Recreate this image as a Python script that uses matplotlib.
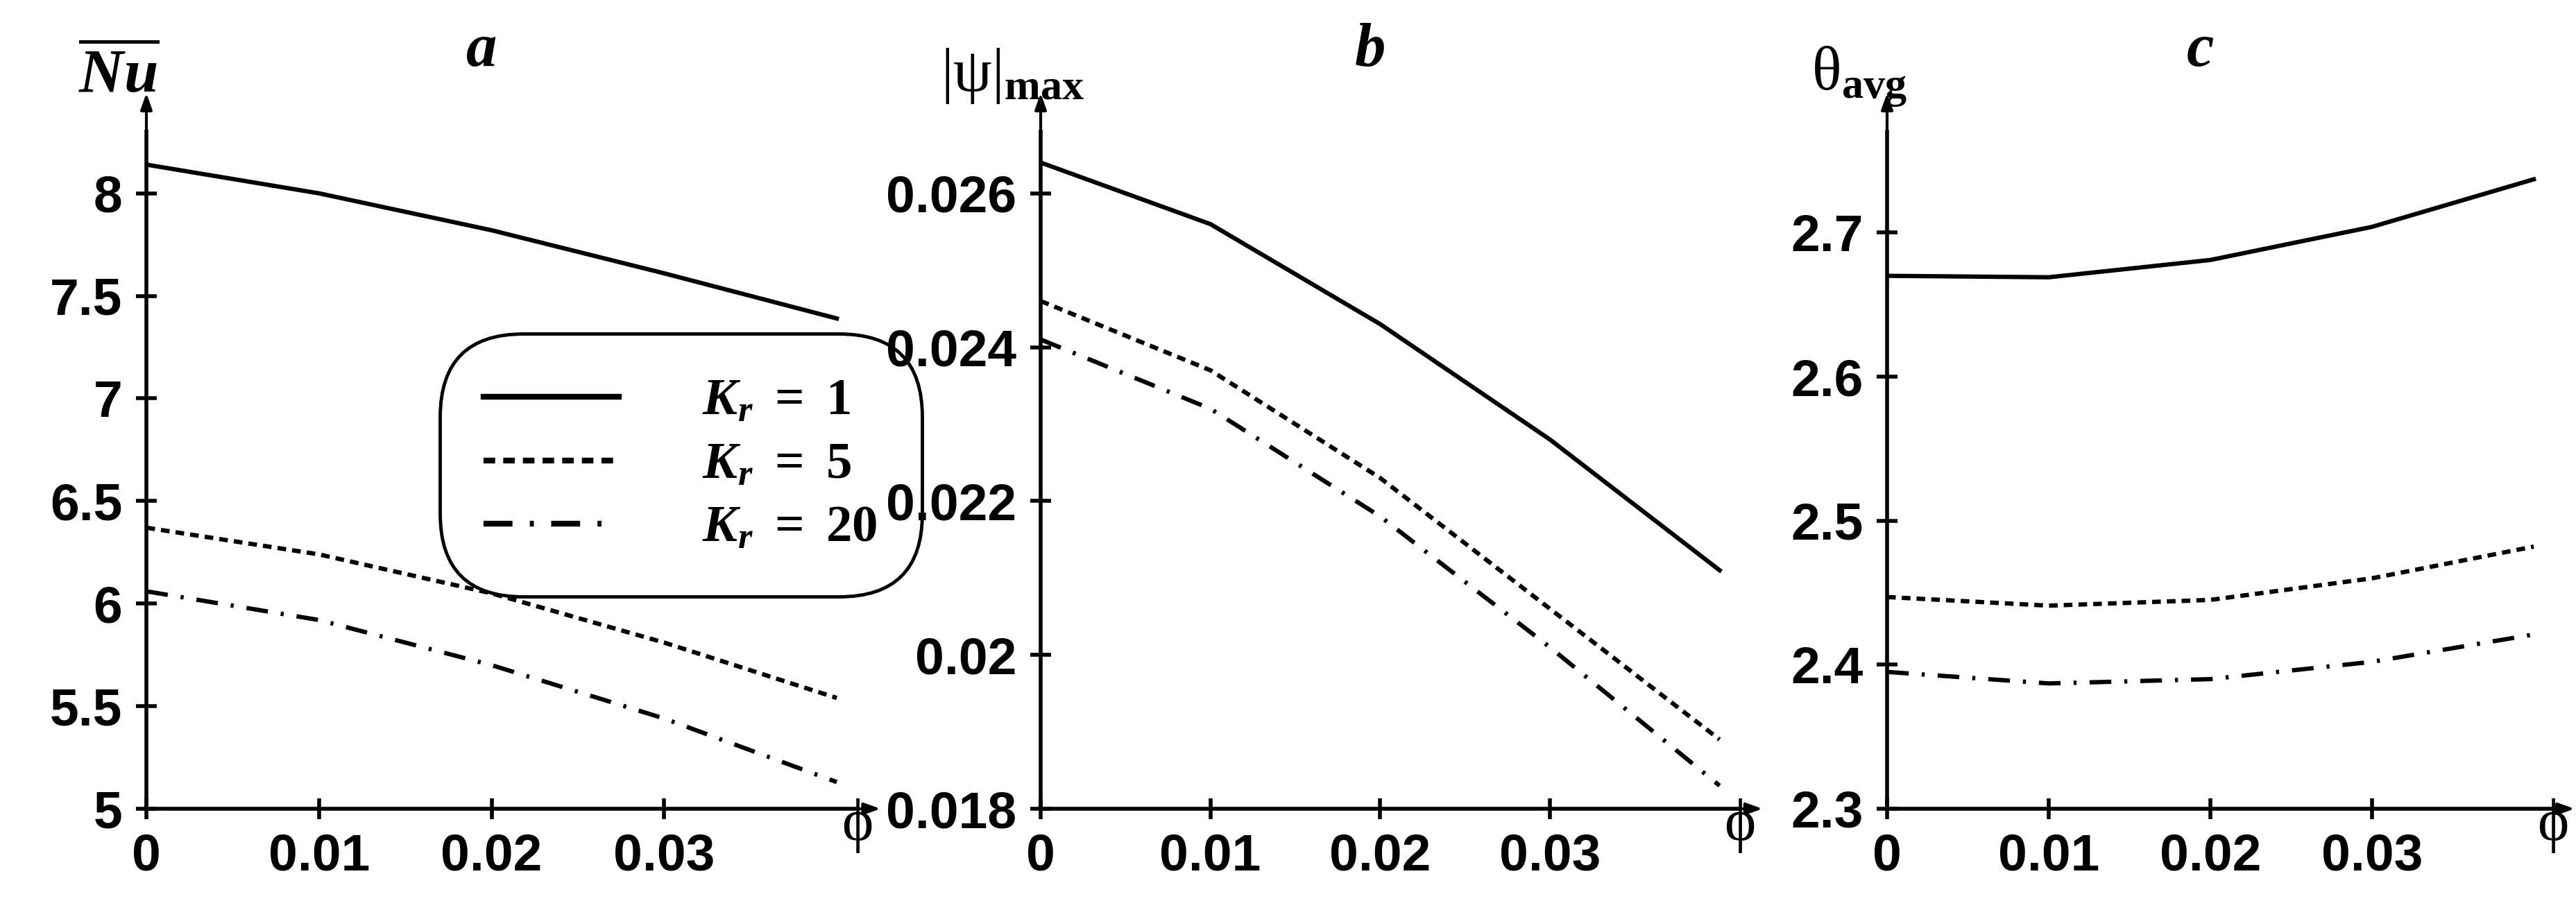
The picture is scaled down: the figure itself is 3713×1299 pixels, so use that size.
import matplotlib
matplotlib.use("Agg")
from matplotlib import pyplot as plt

plt.rcParams['font.family'] = ['Liberation Sans', 'DejaVu Sans']
plt.rcParams['font.weight'] = 'bold'
plt.rcParams['mathtext.fontset'] = 'custom'
plt.rcParams['mathtext.rm'] = 'Liberation Serif'
plt.rcParams['mathtext.it'] = 'Liberation Serif:italic'
plt.rcParams['mathtext.bf'] = 'Liberation Serif:bold'
plt.rcParams['mathtext.bfit'] = 'Liberation Serif:italic:bold'

phi = [0, 0.01, 0.02, 0.03, 0.04]
etiquetas = ['$\\mathbfit{K}_{\\mathbfit{r}}\\ \\mathbf{=\\ 1}$',
             '$\\mathbfit{K}_{\\mathbfit{r}}\\ \\mathbf{=\\ 5}$',
             '$\\mathbfit{K}_{\\mathbfit{r}}\\ \\mathbf{=\\ 20}$']

nu_kr1 = [8.14, 8.00, 7.82, 7.61, 7.39]
nu_kr5 = [6.37, 6.24, 6.05, 5.81, 5.54]
nu_kr20 = [6.06, 5.92, 5.70, 5.44, 5.13]

psi_kr1 = [0.0264, 0.0256, 0.0243, 0.0228, 0.0211]
psi_kr5 = [0.0246, 0.0237, 0.0223, 0.0206, 0.0189]
psi_kr20 = [0.0241, 0.0232, 0.0218, 0.0201, 0.0183]

theta_kr1 = [2.670, 2.669, 2.681, 2.704, 2.737]
theta_kr5 = [2.447, 2.441, 2.445, 2.460, 2.482]
theta_kr20 = [2.395, 2.387, 2.390, 2.402, 2.421]

W, H = 3713, 1299
fig = plt.figure(figsize=(W / 100, H / 100), dpi=100)

estilos = ['-', (0, (2.0, 1.4)), (0, (5, 3, 0.7, 3))]
lw = 4.5
SERIF = ['Liberation Serif', 'DejaVu Serif']


def panel(x0, x1, datos, yticks, ylim, titulo, ylabel, con_leyenda=False):
    ax = fig.add_axes([x0 / W, (H - 1166) / H, (x1 - x0) / W, (1166 - 190) / H])
    for serie, ls, et in zip(datos, estilos, etiquetas):
        ax.plot(phi, serie, color='black', lw=lw, linestyle=ls, label=et)
    ax.set_xlim(0, 0.0412)
    ax.set_ylim(*ylim)
    ax.set_xticks([0, 0.01, 0.02, 0.03])
    ax.set_xticklabels(['0', '0.01', '0.02', '0.03'])
    ax.set_yticks(yticks)
    ax.set_yticklabels(['%g' % v for v in yticks])
    for s in ['top', 'right']:
        ax.spines[s].set_visible(False)
    for s in ['left', 'bottom']:
        ax.spines[s].set_linewidth(4)
    ax.tick_params(direction='inout', length=22, width=4, labelsize=54, pad=14)
    for t in ax.get_xticklabels() + ax.get_yticklabels():
        t.set_fontweight('bold')
    # flechas de los ejes
    ax.annotate('', xy=(1.035, 0), xytext=(0.99, 0), xycoords='axes fraction',
                arrowprops=dict(arrowstyle='-|>,head_length=1.4,head_width=0.5', color='black', lw=3),
                annotation_clip=False)
    ax.annotate('', xy=(0, 1.06), xytext=(0, 0.99), xycoords='axes fraction',
                arrowprops=dict(arrowstyle='-|>,head_length=1.4,head_width=0.5', color='black', lw=3),
                annotation_clip=False)
    fig.text(x1 / W, 1 - 1190 / H, 'ϕ', fontsize=62, family=SERIF, weight='normal',
             ha='center', va='center')
    fig.text((x0 + 0.47 * (x1 - x0)) / W, 1 - 72 / H, titulo, fontsize=64, ha='center', va='center')
    fig.text((x0 - 40) / W, 1 - 110 / H, ylabel, fontsize=64, family=SERIF, weight='normal',
             ha='center', va='center')
    if con_leyenda:
        leg = ax.legend(loc='upper left', bbox_to_anchor=(0.405, 0.71), fontsize=54,
                        frameon=True, fancybox=True, edgecolor='black', handlelength=2.6,
                        borderpad=0.45, labelspacing=0.3, handletextpad=1.6)
        leg.get_frame().set_linewidth(3.5)
        leg.get_frame().set_boxstyle('round', pad=0.4, rounding_size=1.6)
        leg.get_frame().set_alpha(1)
        for l in leg.get_lines():
            l.set_linewidth(6)
    return ax


panel(211, 1236, [nu_kr1, nu_kr5, nu_kr20], [5, 5.5, 6, 6.5, 7, 7.5, 8],
      (5, 8.3), '$\\mathbfit{a}$', '$\\overline{\\mathbfit{Nu}}$', con_leyenda=True)
panel(1500, 2508, [psi_kr1, psi_kr5, psi_kr20], [0.018, 0.02, 0.022, 0.024, 0.026],
      (0.018, 0.0268), '$\\mathbfit{b}$', '|ψ|$_{\\mathbf{max}}$')
panel(2720, 3680, [theta_kr1, theta_kr5, theta_kr20], [2.3, 2.4, 2.5, 2.6, 2.7],
      (2.3, 2.77), '$\\mathbfit{c}$', 'θ$_{\\mathbf{avg}}$')

fig.savefig('out.png', dpi=100)
